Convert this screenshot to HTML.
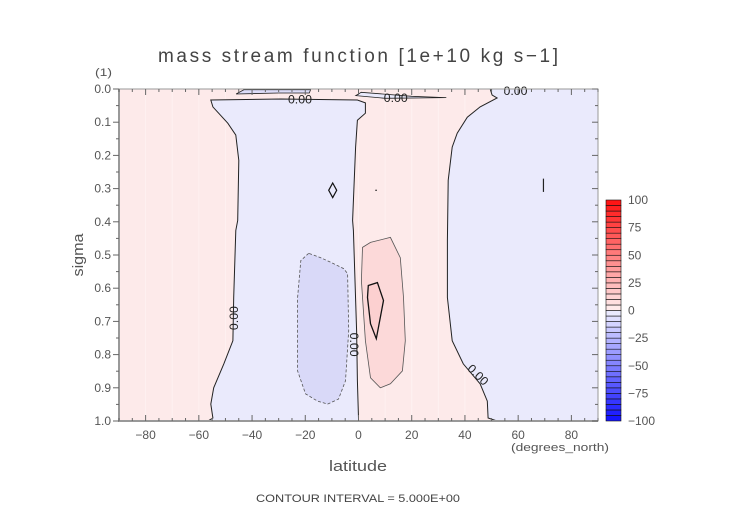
<!DOCTYPE html>
<html><head><meta charset="utf-8"><style>
html,body{margin:0;padding:0;background:#fff;}
svg{display:block;font-family:"Liberation Sans",sans-serif;}
</style></head><body>
<svg id="chart" width="752" height="532" viewBox="0 0 752 532" xmlns="http://www.w3.org/2000/svg">
<text x="358" y="62" font-size="19" fill="#444" text-anchor="middle" textLength="400" lengthAdjust="spacing">mass stream function [1e+10 kg s−1]</text>
<text x="95" y="76" font-size="11" fill="#555" textLength="17" lengthAdjust="spacingAndGlyphs">(1)</text>
<text transform="translate(83,255) rotate(-90)" font-size="15" fill="#555" text-anchor="middle" textLength="43" lengthAdjust="spacingAndGlyphs">sigma</text>
<text x="358" y="471" font-size="15" fill="#555" text-anchor="middle" textLength="58" lengthAdjust="spacingAndGlyphs">latitude</text>
<text x="560" y="451" font-size="11" fill="#555" text-anchor="middle" textLength="98" lengthAdjust="spacingAndGlyphs">(degrees_north)</text>
<text x="358" y="502" font-size="11" fill="#444" text-anchor="middle" textLength="204" lengthAdjust="spacingAndGlyphs">CONTOUR INTERVAL = 5.000E+00</text>
<g id="plot"></g>
<g id="cbar"></g>
</svg>
<script>
const NS='http://www.w3.org/2000/svg';
// data: contour regions in [latitude, sigma]
const leftBand=[[-55.5,0.033],[-54.7,0.054],[-49.1,0.103],[-46.1,0.139],[-45,0.215],[-45.4,0.396],[-46.1,0.426],[-46.9,0.628],[-47.2,0.758],[-50.6,0.828],[-54.4,0.9],[-55.5,0.949],[-54.7,0.991],[-56.6,1.0],[0,1.0],[0,0.991],[-0.4,0.879],[-0.7,0.728],[-1.9,0.426],[-2.2,0.396],[-1.1,0.175],[-0.4,0.094],[2.6,0.073],[2.6,0.042],[-0.4,0.033],[-29.2,0.03]];
const rightBand=[[49.5,0],[50.2,0.018],[52.1,0.027],[45.7,0.054],[40.9,0.085],[37.1,0.133],[35.2,0.175],[33.7,0.275],[33.4,0.456],[33.4,0.628],[35.2,0.758],[39.4,0.828],[45.7,0.888],[48.4,0.94],[48.7,0.991],[52.1,1.0],[90,1],[90,0]];
const negCell=[[-18.7,0.495],[-21.7,0.517],[-22.9,0.628],[-22.9,0.849],[-19.9,0.918],[-15.4,0.94],[-11.6,0.949],[-7.5,0.934],[-4.9,0.879],[-3.7,0.728],[-4.1,0.556],[-5.6,0.541],[-9.4,0.526],[-14.2,0.508]];
const posCell=[[1.5,0.477],[4.5,0.462],[12,0.447],[15.7,0.508],[16.9,0.628],[17.6,0.758],[16.5,0.849],[12,0.888],[8.2,0.9],[4.5,0.87],[2.6,0.758],[1.1,0.577]];
const posInner=[[3.7,0.592],[7.1,0.583],[9.4,0.637],[6.7,0.752],[4.5,0.707],[3.4,0.628]];
const diamond=[[-9.7,0.283],[-8.2,0.305],[-9.7,0.327],[-11.2,0.305]];
const topSliverA=[[-46,0.015],[-43,0.002],[-18,0.002],[-18.5,0.012],[-30,0.012]];
const topSliverB=[[-1,0.02],[1,0.01],[20,0.022],[33,0.026],[10,0.028]];
const xTicks=[-80,-60,-40,-20,0,20,40,60,80];
const yTicks=[0,0.1,0.2,0.3,0.4,0.5,0.6,0.7,0.8,0.9,1.0];
const cbLabels=[100,75,50,25,0,-25,-50,-75,-100];
const zeroLabels=[[-46.9,0.69,-90],[-1.5,0.77,90],[45,0.86,45],[-22,0.03,0],[14,0.025,0],[59,0.005,0]];

const X0=119,X1=598,Y0=89,Y1=421;
const xs=l=>X0+(l+90)/180*(X1-X0);
const ys=s=>Y0+s*(Y1-Y0);
const plot=document.getElementById('plot');
function mk(tag,attrs,parent){const e=document.createElementNS(NS,tag);for(const k in attrs)e.setAttribute(k,attrs[k]);(parent||plot).appendChild(e);return e;}
function pts(a){return a.map(p=>xs(p[0]).toFixed(1)+','+ys(p[1]).toFixed(1)).join(' ');}

let bg=mk('rect',{x:X0,y:Y0,width:X1-X0,height:Y1-Y0,fill:'#fdeaea'});


for(let l=-80;l<=80;l+=10){let g=mk('line',{x1:xs(l),x2:xs(l),y1:Y0,y2:Y1,stroke:'#fff',"stroke-opacity":0.35});

}
function poly(arr,fill,stroke,sw,dash,name){const p=mk('polygon',{points:pts(arr),fill:fill,stroke:stroke,'stroke-width':sw});if(dash)p.setAttribute('stroke-dasharray',dash);

return p;}
poly(leftBand,'#eaeafc','#222',1,null,'negative-region-south');
poly(rightBand,'#eaeafc','#222',1,null,'negative-region-north');
poly(topSliverA,'#dcdcf8','#222',0.8,null,'top-sliver-south');
poly(topSliverB,'#eaeafc','#222',0.8,null,'top-sliver-equator');
poly(negCell,'#d9d9f8','#555',0.8,'3,2','negative-cell-contour');
poly(posCell,'#fcd9d9','#555',0.8,null,'positive-cell-contour');
poly(posInner,'#fcd0d0','#111',1.3,null,'positive-inner-contour');
poly(diamond,'none','#111',1.2,null,'small-closed-contour');
let sl=mk('line',{x1:xs(69.5),x2:xs(69.5),y1:ys(0.27),y2:ys(0.31),stroke:'#222','stroke-width':1.2});


let dot=mk('circle',{cx:xs(6.6),cy:ys(0.305),r:0.8,fill:'#222'});


zeroLabels.forEach(z=>{const x=xs(z[0]),y=ys(z[1]);
 const t=mk('text',{x:x,y:y+4.5,'font-size':12,fill:'#222','text-anchor':'middle',textLength:24,lengthAdjust:'spacingAndGlyphs',transform:`rotate(${z[2]},${x},${y})`});
 t.textContent='0.00';
 
 
});
let fr=mk('rect',{x:X0,y:Y0,width:X1-X0,height:Y1-Y0,fill:'none',stroke:'#999','stroke-width':1});


let la=mk('line',{x1:X0,x2:X0,y1:Y0,y2:Y1+1,stroke:'#999','stroke-width':2});


let ba=mk('line',{x1:X0,x2:X1,y1:Y1,y2:Y1,stroke:'#999','stroke-width':2});


for(let l=-90;l<=90;l+=5){const maj=l%20===0;const x=xs(l);
 let t1=mk('line',{x1:x,x2:x,y1:Y1,y2:Y1-(maj?6:3),stroke:'#666'});
 
 
 let t2=mk('line',{x1:x,x2:x,y1:Y0,y2:Y0+(maj?6:3),stroke:'#666'});
 
 }
xTicks.forEach(l=>{const t=mk('text',{x:xs(l),y:Y1+18,'font-size':12,fill:'#555','text-anchor':'middle'});t.textContent=l<0?'−'+(-l):String(l);
 
 });
for(let i=0;i<=20;i++){const s=i*0.05;const maj=i%2===0;const y=ys(s);
 let t1=mk('line',{x1:X0,x2:X0-(maj?6:3),y1:y,y2:y,stroke:'#666'});
 
 
 let t2=mk('line',{x1:X1,x2:X1-(maj?6:3),y1:y,y2:y,stroke:'#666'});
 
 }
yTicks.forEach(s=>{const t=mk('text',{x:X0-8,y:ys(s)+4,'font-size':12,fill:'#555','text-anchor':'end'});t.textContent=s.toFixed(1);
 
 });
const cb=document.getElementById('cbar');
const CX=606,CW=15,CT=200,CB=421;
const cy=v=>CB-(v+100)/200*(CB-CT);
for(let v=-100;v<100;v+=5){const m=v+2.5;let r,g,b;
 if(m>0){const f=m/100;r=255;g=Math.round(240-225*f);b=g;}else{const f=-m/100;b=255;r=Math.round(240-225*f);g=r;}
 const rc=mk('rect',{x:CX,y:cy(v+5),width:CW,height:cy(v)-cy(v+5),fill:`rgb(${r},${g},${b})`,stroke:'#111','stroke-width':0.6},cb);
 
 }
cbLabels.forEach(v=>{const t=mk('text',{x:CX+CW+7,y:cy(v)+4,'font-size':12,fill:'#555'},cb);t.textContent=v<0?'−'+(-v):String(v);
 
 });
</script>
</body></html>
